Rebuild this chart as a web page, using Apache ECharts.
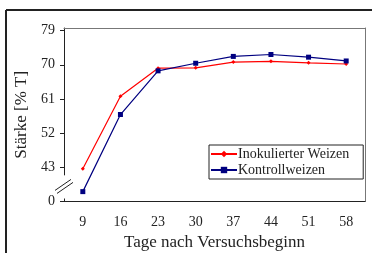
<!DOCTYPE html>
<html>
<head>
<meta charset="utf-8">
<script src="https://cdn.jsdelivr.net/npm/echarts@6/dist/echarts.min.js"></script>
<style>
  html, body { margin: 0; padding: 0; background: #fff; }
  #chart { width: 372px; height: 253px; }
</style>
</head>
<body>
<div id="chart"></div>
<script>
// Tage nach Versuchsbeginn
const days = ['9', '16', '23', '30', '37', '44', '51', '58']
// Stärke [% T], read on the axis scale (axis "0" sits where 34 would be)
const inokuliert = [42.6, 61.7, 69.1, 69.2, 70.7, 70.9, 70.5, 70.2]
const kontrolle = [36.6, 56.9, 68.4, 70.4, 72.2, 72.7, 72.0, 71.0]
const yTicks = [34, 43, 52, 61, 70, 79]

const font = 'Liberation Serif'
const txt = '#222'
const chart = echarts.init(document.getElementById('chart'))

chart.setOption({
  animation: false,
  grid: { left: 64, top: 28, right: 7, bottom: 51.5, outerBoundsMode: 'none' },
  legend: {
    left: 209,
    top: 145,
    orient: 'vertical',
    itemWidth: 26,
    itemHeight: 8,
    itemGap: 2,
    padding: [2, 14, 2, 1],
    borderColor: '#222',
    borderWidth: 1,
    textStyle: { fontFamily: font, fontSize: 14, color: txt, padding: [0, 0, 0, -4] }
  },
  xAxis: [
    {
      type: 'category',
      data: days,
      name: 'Tage nach Versuchsbeginn',
      nameLocation: 'middle',
      nameGap: 29,
      nameTextStyle: { fontFamily: font, fontSize: 17, color: txt },
      axisLine: { lineStyle: { color: '#222', width: 1 } },
      axisTick: { length: 5, lineStyle: { color: '#222' } },
      axisLabel: { fontFamily: font, fontSize: 14, color: txt, margin: 14 },
      splitLine: { show: false }
    },
    {
      // plot frame, top edge
      type: 'category',
      data: days,
      position: 'top',
      axisLine: { lineStyle: { color: '#777' } },
      axisTick: { show: false },
      axisLabel: { show: false }
    }
  ],
  yAxis: [
    {
      type: 'value',
      min: 34,
      max: 79.68,
      name: 'Stärke [% T]',
      nameLocation: 'middle',
      nameGap: 25,
      nameTextStyle: { fontFamily: font, fontSize: 17, color: txt },
      axisLine: { show: true, lineStyle: { color: '#222', width: 1 } },
      axisTick: { show: true, length: 4, customValues: yTicks, lineStyle: { color: '#222' } },
      axisLabel: {
        fontFamily: font, fontSize: 14, color: txt, margin: 9,
        customValues: yTicks,
        formatter: v => (v === 34 ? '0' : String(v))
      },
      splitLine: { show: false }
    },
    {
      // plot frame, right edge
      type: 'value',
      min: 34,
      max: 79.68,
      position: 'right',
      axisLine: { show: true, lineStyle: { color: '#777' } },
      axisTick: { show: false },
      axisLabel: { show: false },
      splitLine: { show: false }
    }
  ],
  series: [
    {
      name: 'Inokulierter Weizen',
      type: 'line',
      data: inokuliert,
      symbol: 'diamond',
      symbolSize: 4,
      lineStyle: { color: '#ff0000', width: 1.2 },
      itemStyle: { color: '#ff0000' }
    },
    {
      name: 'Kontrollweizen',
      type: 'line',
      data: kontrolle,
      symbol: 'rect',
      symbolSize: 5,
      lineStyle: { color: '#000080', width: 1.2 },
      itemStyle: { color: '#000080' }
    }
  ]
})

// axis break and outer frame
const ax = chart.convertToPixel({ xAxisIndex: 0 }, 0) - (chart.convertToPixel({ xAxisIndex: 0 }, 1) - chart.convertToPixel({ xAxisIndex: 0 }, 0)) / 2
const y43 = chart.convertToPixel({ yAxisIndex: 0 }, 43)
const y0 = chart.convertToPixel({ yAxisIndex: 0 }, 34)
const my = (y43 + y0) / 2 + 2
chart.setOption({
  graphic: [
    { type: 'rect', shape: { x: ax - 2, y: y43 + 8, width: 4, height: y0 - y43 - 11 }, style: { fill: '#fff' }, z: 100 },
    { type: 'line', shape: { x1: ax - 9, y1: my + 4, x2: ax + 7, y2: my - 7 }, style: { stroke: '#222', lineWidth: 1 }, z: 101 },
    { type: 'line', shape: { x1: ax - 7, y1: my + 7, x2: ax + 9, y2: my - 4 }, style: { stroke: '#222', lineWidth: 1 }, z: 101 },
    { type: 'line', shape: { x1: 6, y1: 10, x2: 372, y2: 10 }, style: { stroke: '#222', lineWidth: 2 } },
    { type: 'line', shape: { x1: 6, y1: 10, x2: 6, y2: 253 }, style: { stroke: '#222', lineWidth: 2 } }
  ]
})
</script>
</body>
</html>
